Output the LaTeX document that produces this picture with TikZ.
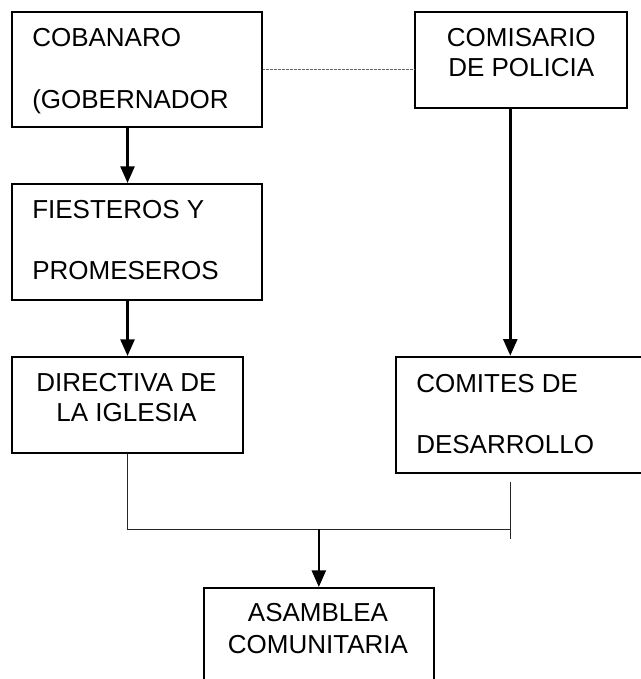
\documentclass[tikz,border=0pt]{standalone}
\usepackage{fontspec}
\setmainfont{Liberation Sans}
\usetikzlibrary{arrows.meta}
\begin{document}
\begin{tikzpicture}[x=0.75pt,y=-0.75pt,
  box/.style={draw=black,line width=1.5pt,rectangle,inner sep=0pt,anchor=north west,fill=none},
  lbl/.style={inner sep=0pt,font=\fontsize{19.5pt}{22.5pt}\selectfont},
  conn/.style={draw=black!85,line width=1.1pt},
  dots/.style={draw=black!60,line width=1.1pt,dash pattern=on 0.7pt off 0.3pt},
  arr/.style={draw=black,line width=1.9pt,-{Triangle[width=10.5pt,length=12.5pt]}}]
\useasboundingbox (0,0) rectangle (640,679);
% boxes
\node[box,minimum width=187.7pt,minimum height=86.5pt] (cob) at (10.7,10.7) {};
\node[box,minimum width=158.8pt,minimum height=72pt] (com) at (414,11) {};
\node[box,minimum width=187.7pt,minimum height=87pt] (fie) at (10.7,183) {};
\node[box,minimum width=173.3pt,minimum height=72pt] (dir) at (11,356) {};
\node[box,minimum width=187.5pt,minimum height=87pt] (cmt) at (395,355.7) {};
\node[box,minimum width=172.7pt,minimum height=82.5pt] (asa) at (202.7,587) {};
% texts
\node[lbl,anchor=base west] (t1) at (32,46) {COBANARO};
\node[lbl,anchor=base west] (t2) at (32,108) {(GOBERNADOR};
\node[lbl,anchor=base] (t3) at (521.3,46.7) {COMISARIO};
\node[lbl,anchor=base] (t4) at (521.3,76.7) {DE POLICIA};
\node[lbl,anchor=base west] (t5) at (32,218) {FIESTEROS Y};
\node[lbl,anchor=base west] (t6) at (32,279) {PROMESEROS};
\node[lbl,anchor=base] (t7) at (126.5,391.7) {DIRECTIVA DE};
\node[lbl,anchor=base] (t8) at (126.5,421.7) {LA IGLESIA};
\node[lbl,anchor=base west] (t9) at (416,392) {COMITES DE};
\node[lbl,anchor=base west] (t10) at (416,453) {DESARROLLO};
\node[lbl,anchor=base] (t11) at (318,621.7) {ASAMBLEA};
\node[lbl,anchor=base] (t12) at (318,653) {COMUNITARIA};
% junction coordinates
\coordinate (jr) at (510.3,529.3);
\coordinate (tt) at (510.3,481.7);
\coordinate (tb) at (510.3,539);
% connectors
\draw[dots] (cob.east) -- (cob.east -| com.west);
\draw[arr] (cob.south -| dir.north) -- (fie.north -| dir.north);
\draw[arr] (fie.south -| dir.north) -- (dir.north);
\draw[arr] (com.south -| jr) -- (cmt.north -| jr);
\draw[conn] (dir.south) |- (jr);
\draw[conn] (tt) -- (tb);
\draw[arr] (asa.north |- jr) -- (asa.north);
\end{tikzpicture}
\end{document}
